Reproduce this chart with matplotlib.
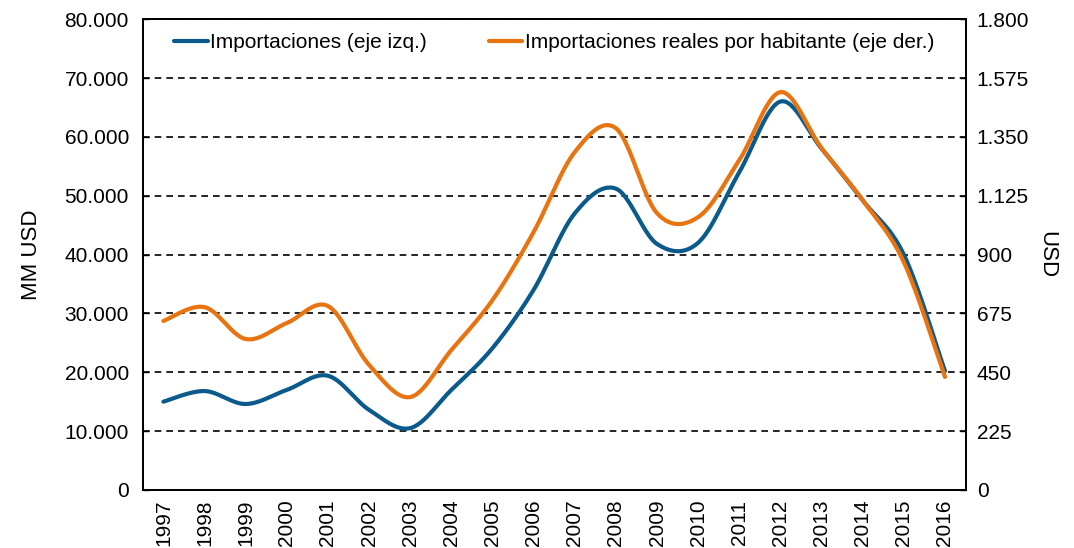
import numpy as np
import matplotlib
matplotlib.use("Agg")
import matplotlib.pyplot as plt
from matplotlib.ticker import FuncFormatter, MultipleLocator

plt.rcParams['font.family'] = ['Liberation Sans', 'DejaVu Sans']

years = [str(y) for y in range(1997, 2017)]
importaciones = [15000, 16800, 14600, 17000, 19400, 13600, 10500, 17000, 24100, 34000,
                 47000, 51200, 41800, 42000, 54000, 66000, 58000, 49200, 40000, 20200]
imp_hab = [646, 699, 577, 638, 703, 478, 355, 535, 726, 986,
           1292, 1383, 1058, 1043, 1261, 1521, 1307, 1108, 871, 432]

blue = '#0B5A8C'
orange = '#E8730F'


def smooth(y, n=30):
    # excel-like smoothing: bezier segments with catmull-rom control points
    y = np.asarray(y, float)
    x = np.arange(len(y), dtype=float)
    pts = np.column_stack([x, y])
    out = [pts[:1]]
    t = np.linspace(0, 1, n)[1:, None]
    for i in range(len(pts) - 1):
        p0 = pts[max(i - 1, 0)]
        p1, p2 = pts[i], pts[i + 1]
        p3 = pts[min(i + 2, len(pts) - 1)]
        c1 = p1 + (p2 - p0) / 6
        c2 = p2 - (p3 - p1) / 6
        seg = ((1 - t) ** 3) * p1 + 3 * ((1 - t) ** 2) * t * c1 + 3 * (1 - t) * t ** 2 * c2 + t ** 3 * p2
        out.append(seg)
    s = np.vstack(out)
    return s[:, 0], s[:, 1]


def miles(v, pos):
    return f'{int(round(v)):,}'.replace(',', '.')


fig = plt.figure(figsize=(10.74, 5.48), dpi=100)
ax = fig.add_axes([0.133, 0.106, 0.766, 0.859])
ax2 = ax.twinx()

xs, ys = smooth(importaciones)
l1, = ax.plot(xs, ys, color=blue, lw=3.0, solid_capstyle='round', label='Importaciones (eje izq.)')
xs, ys = smooth(imp_hab)
l2, = ax2.plot(xs, ys, color=orange, lw=3.0, solid_capstyle='round',
               label='Importaciones reales por habitante (eje der.)')

ax.set_xlim(-0.5, len(years) - 0.5)
ax.set_ylim(0, 80000)
ax2.set_ylim(0, 1800)
ax.yaxis.set_major_locator(MultipleLocator(10000))
ax2.yaxis.set_major_locator(MultipleLocator(225))
ax.yaxis.set_major_formatter(FuncFormatter(miles))
ax2.yaxis.set_major_formatter(FuncFormatter(miles))
ax.set_xticks(range(len(years)))
ax.set_xticklabels(years, rotation=90)

for a in (ax, ax2):
    a.tick_params(labelsize=15, length=4, width=1, direction='in')
    for sp in a.spines.values():
        sp.set_linewidth(1.3)
ax.tick_params(axis='x', length=0, pad=7)
ax.tick_params(axis='y', pad=10)
ax2.tick_params(axis='y', pad=8)

ax.grid(axis='y', color='black', linestyle=(0, (4, 3)), lw=1.2)
ax.set_axisbelow(True)

ax.set_ylabel('MM USD', fontsize=16, labelpad=16)
ax2.set_ylabel('USD', fontsize=16, rotation=270, labelpad=20)

leg = ax.legend([l1, l2], [l1.get_label(), l2.get_label()], loc='upper center',
                bbox_to_anchor=(0.5, 1.01), ncol=2, frameon=False, fontsize=15,
                handlelength=1.6, handletextpad=0.1, columnspacing=3.0)

fig.savefig('out.png', dpi=100)
